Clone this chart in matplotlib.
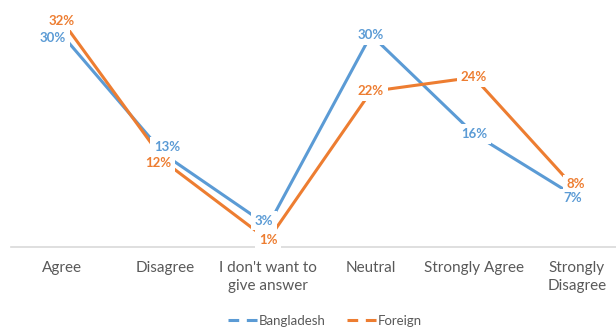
import matplotlib
matplotlib.use("Agg")
import matplotlib.pyplot as plt
from matplotlib.lines import Line2D

categories = ["Agree", "Disagree", "I don't want to\ngive answer", "Neutral",
              "Strongly Agree", "Strongly\nDisagree"]
bangladesh = [30, 13, 3, 30, 16, 7]
foreign = [32, 12, 1, 22, 24, 8]

BLUE = "#5B9BD5"
ORANGE = "#ED7D31"
GRAY = "#595959"

# per-label nudges (pixels) so overlapping labels stay readable
blue_offsets = [(-9, -3), (2, 8), (-4, 5), (0, 0), (0, 0), (-4, -1)]
orange_offsets = [(0, 0), (-7, -1), (0, 0), (0, 0), (0, 0), (-1, 6)]

plt.rcParams["font.family"] = ["Lato", "DejaVu Sans"]

fig = plt.figure(figsize=(6.16, 3.27), dpi=100)
ax = fig.add_axes([10.5 / 616, 1 - 247 / 327, 618 / 616, 247.5 / 327])

x = list(range(len(categories)))
ax.plot(x, [v / 100 for v in bangladesh], color=BLUE, lw=2.2,
        solid_joinstyle="round", zorder=2)
ax.plot(x, [v / 100 for v in foreign], color=ORANGE, lw=2.2,
        solid_joinstyle="round", zorder=2)

for series, offs, col, z in ((foreign, orange_offsets, ORANGE, 4),
                             (bangladesh, blue_offsets, BLUE, 5)):
    for xi, v, (dx, dy) in zip(x, series, offs):
        ax.annotate(f"{v}%", (xi, v / 100), xytext=(dx, dy),
                    textcoords="offset pixels", ha="center", va="center",
                    fontsize=9.5, fontweight="bold", color=col, zorder=z,
                    bbox=dict(boxstyle="square,pad=0.28", fc="white",
                              ec="none"))

ax.set_xlim(-0.5, 5.5)
ax.set_ylim(0, 0.35)
ax.set_yticks([])
ax.set_xticks(x)
ax.set_xticklabels(categories, fontsize=11, color=GRAY, linespacing=1.35)
ax.tick_params(axis="x", length=0, pad=10)
for s in ("top", "left", "right"):
    ax.spines[s].set_visible(False)
ax.spines["bottom"].set_color("#D9D9D9")
ax.spines["bottom"].set_linewidth(1.2)
ax.set_facecolor("none")

handles = [Line2D([], [], color=BLUE, lw=2.2, dashes=(3.5, 2.5)),
           Line2D([], [], color=ORANGE, lw=2.2, dashes=(3.5, 2.5))]
fig.legend(handles, ["Bangladesh", "Foreign"], loc="center",
           bbox_to_anchor=(0.527, 1 - 321 / 327), ncol=2, frameon=False,
           fontsize=9.5, handlelength=2.3, handletextpad=0.05,
           columnspacing=1.6, labelcolor=GRAY)

fig.savefig("out.png", dpi=100)
